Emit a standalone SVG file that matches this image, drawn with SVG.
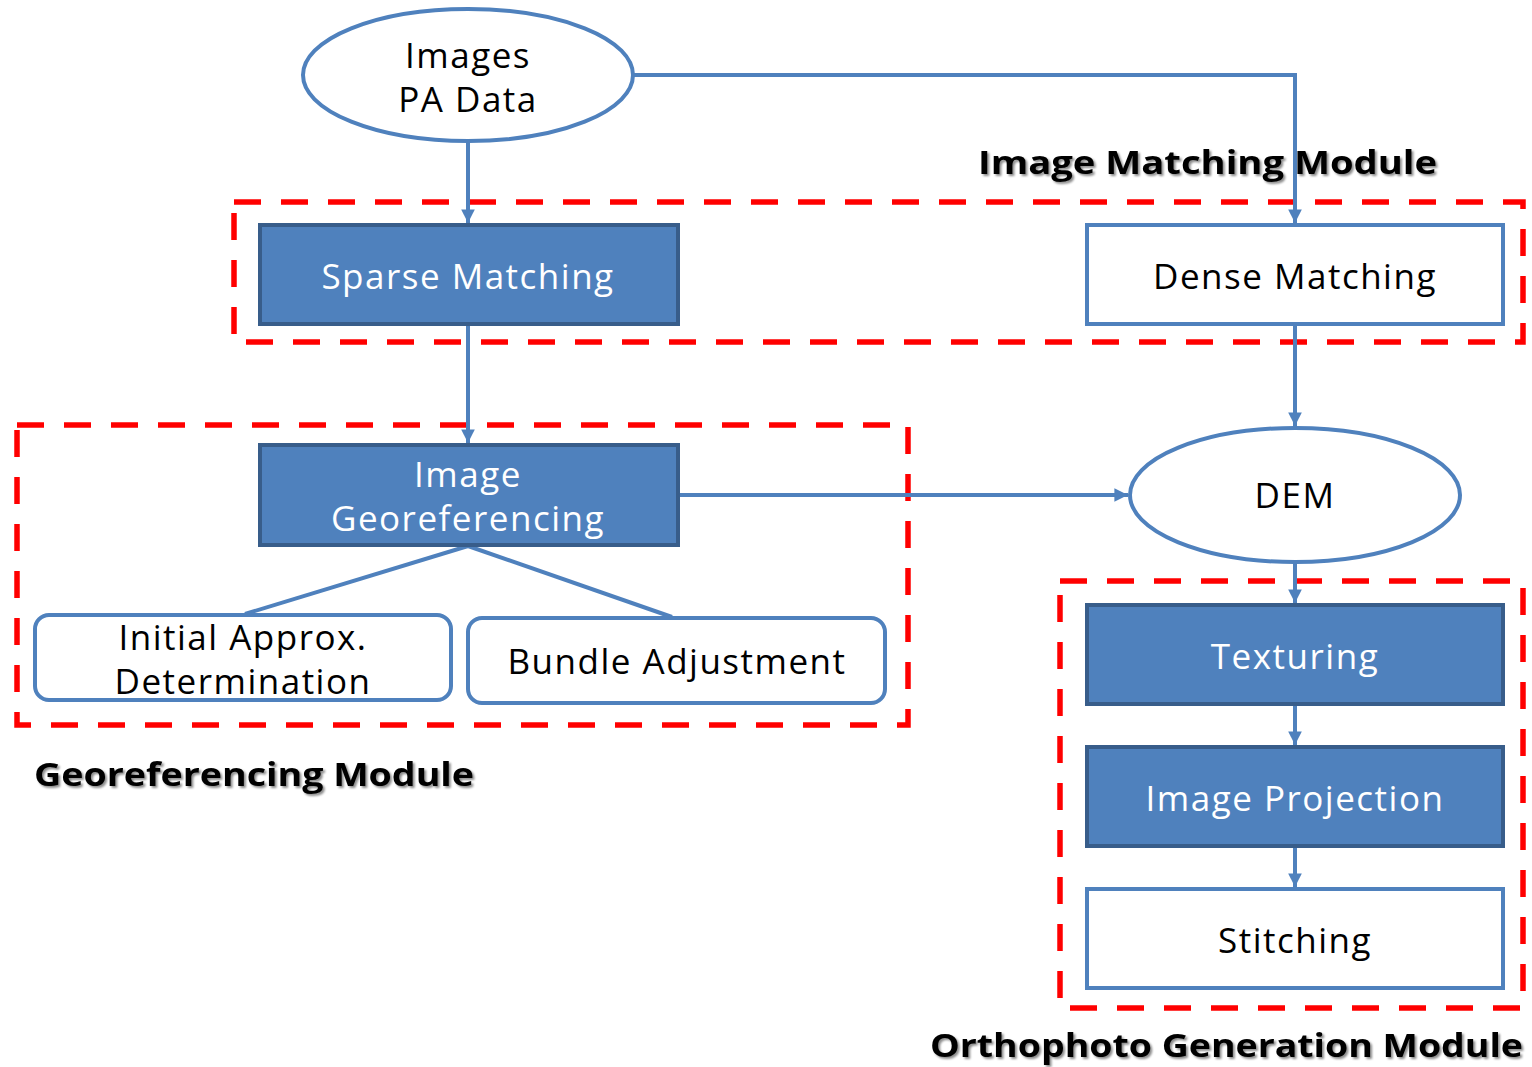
<svg xmlns="http://www.w3.org/2000/svg" width="1532" height="1067" viewBox="0 0 1532 1067">
<style>
.lbl{font-family:"Open Sans","Noto Sans","Liberation Sans",sans-serif;font-size:35px;letter-spacing:1.5px;text-anchor:middle;fill:#000}
.wt{fill:#fff}
.fill{fill:#4F81BD;stroke:#385D8A;stroke-width:4}
.white{fill:#fff;stroke:#4F81BD;stroke-width:4}
.conn{fill:none;stroke:#4F81BD;stroke-width:4}
.mod{fill:none;stroke:#FF0000;stroke-width:5.5;stroke-dasharray:27 20}
.mlbl{font-family:"Open Sans","Noto Sans","Liberation Sans",sans-serif;font-size:32px;font-weight:bold;fill:#000;filter:url(#sh)}
</style>
<defs>
<marker id="ah" viewBox="0 0 10 10" refX="10" refY="5" markerWidth="3.4" markerHeight="3.4" markerUnits="strokeWidth" orient="auto">
<path d="M0,0 L10,5 L0,10 z" fill="#4F81BD"/>
</marker>
<filter id="sh" x="-5%" y="-20%" width="110%" height="150%">
<feDropShadow dx="2" dy="2" stdDeviation="1.2" flood-color="#000" flood-opacity="0.45"/>
</filter>
</defs>
<rect width="1532" height="1067" fill="#fff"/>

<g id="modules">
<rect class="mod" x="234" y="202" width="1289" height="140"/>
<rect class="mod" x="17" y="425" width="891" height="300"/>
<rect class="mod" x="1060" y="581" width="463" height="427"/>
<text class="mlbl" x="978" y="174" textLength="459" lengthAdjust="spacingAndGlyphs">Image Matching Module</text>
<text class="mlbl" x="34" y="786" textLength="440" lengthAdjust="spacingAndGlyphs">Georeferencing Module</text>
<text class="mlbl" x="930" y="1057" textLength="593" lengthAdjust="spacingAndGlyphs">Orthophoto Generation Module</text>
</g>

<g id="connectors">
<path class="conn" d="M633,75 H1295 V223" marker-end="url(#ah)"/>
<path class="conn" d="M468,141 V223" marker-end="url(#ah)"/>
<path class="conn" d="M468,326 V443" marker-end="url(#ah)"/>
<path class="conn" d="M1295,326 V426" marker-end="url(#ah)"/>
<path class="conn" d="M680,495 H1128" marker-end="url(#ah)"/>
<path class="conn" d="M1295,561 V603" marker-end="url(#ah)"/>
<path class="conn" d="M1295,706 V745" marker-end="url(#ah)"/>
<path class="conn" d="M1295,848 V887" marker-end="url(#ah)"/>
<path class="conn" d="M468,546 L245,614"/>
<path class="conn" d="M468,546 L672,617"/>
</g>

<g id="images">
<ellipse class="white" cx="468" cy="75" rx="165" ry="66"/>
<text class="lbl" x="468" y="68">Images</text>
<text class="lbl" x="468" y="112">PA Data</text>
</g>
<g id="sparse">
<rect class="fill" x="260" y="225" width="418" height="99"/>
<text class="lbl wt" x="468" y="289">Sparse Matching</text>
</g>
<g id="dense">
<rect class="white" x="1087" y="225" width="416" height="99"/>
<text class="lbl" x="1295" y="289">Dense Matching</text>
</g>
<g id="georef">
<rect class="fill" x="260" y="445" width="418" height="100"/>
<text class="lbl wt" x="468" y="487">Image</text>
<text class="lbl wt" x="468" y="531">Georeferencing</text>
</g>
<g id="dem">
<ellipse class="white" cx="1295" cy="495" rx="165" ry="67"/>
<text class="lbl" x="1295" y="508">DEM</text>
</g>
<g id="initial">
<rect class="white" x="35" y="615" width="416" height="85" rx="14"/>
<text class="lbl" x="243" y="650">Initial Approx.</text>
<text class="lbl" x="243" y="694">Determination</text>
</g>
<g id="bundle">
<rect class="white" x="468" y="618" width="417" height="85" rx="14"/>
<text class="lbl" x="677" y="674">Bundle Adjustment</text>
</g>
<g id="texturing">
<rect class="fill" x="1087" y="605" width="416" height="99"/>
<text class="lbl wt" x="1295" y="669">Texturing</text>
</g>
<g id="projection">
<rect class="fill" x="1087" y="747" width="416" height="99"/>
<text class="lbl wt" x="1295" y="811">Image Projection</text>
</g>
<g id="stitching">
<rect class="white" x="1087" y="889" width="416" height="99"/>
<text class="lbl" x="1295" y="953">Stitching</text>
</g>
</svg>
